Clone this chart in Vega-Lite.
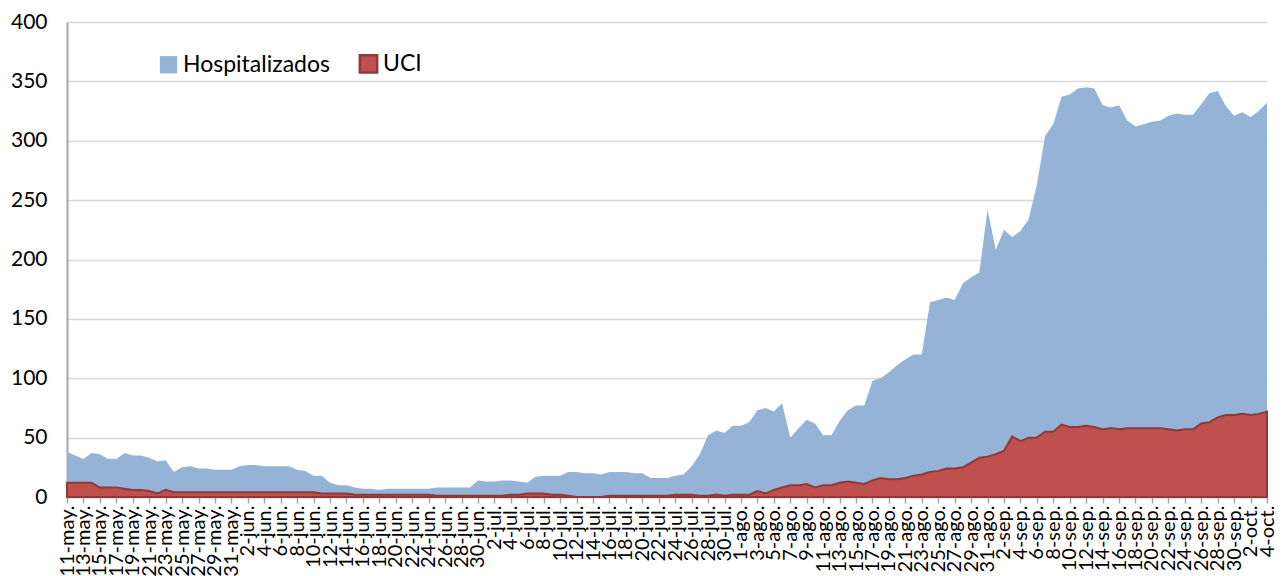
{
  "$schema": "https://vega.github.io/schema/vega-lite/v6.json",
  "width": 1200,
  "height": 475,
  "autosize": {"type": "none"},
  "padding": {"left": 67, "top": 22, "right": 21, "bottom": 79},
  "background": "white",
  "config": {
    "font": "Lato",
    "view": {"stroke": null},
    "axis": {"labelFont": "Lato", "labelColor": "#000000"},
    "legend": {"labelFont": "Lato"}
  },
  "data": {
    "values": [
      {"fecha": "2020-05-11", "Hospitalizados": 38, "UCI": 12},
      {"fecha": "2020-05-12", "Hospitalizados": 35, "UCI": 12},
      {"fecha": "2020-05-13", "Hospitalizados": 32, "UCI": 12},
      {"fecha": "2020-05-14", "Hospitalizados": 37, "UCI": 12},
      {"fecha": "2020-05-15", "Hospitalizados": 36, "UCI": 8},
      {"fecha": "2020-05-16", "Hospitalizados": 32, "UCI": 8},
      {"fecha": "2020-05-17", "Hospitalizados": 32, "UCI": 8},
      {"fecha": "2020-05-18", "Hospitalizados": 37, "UCI": 7},
      {"fecha": "2020-05-19", "Hospitalizados": 35, "UCI": 6},
      {"fecha": "2020-05-20", "Hospitalizados": 35, "UCI": 6},
      {"fecha": "2020-05-21", "Hospitalizados": 33, "UCI": 5},
      {"fecha": "2020-05-22", "Hospitalizados": 30, "UCI": 3},
      {"fecha": "2020-05-23", "Hospitalizados": 31, "UCI": 6},
      {"fecha": "2020-05-24", "Hospitalizados": 21, "UCI": 4},
      {"fecha": "2020-05-25", "Hospitalizados": 25, "UCI": 4},
      {"fecha": "2020-05-26", "Hospitalizados": 26, "UCI": 4},
      {"fecha": "2020-05-27", "Hospitalizados": 24, "UCI": 4},
      {"fecha": "2020-05-28", "Hospitalizados": 24, "UCI": 4},
      {"fecha": "2020-05-29", "Hospitalizados": 23, "UCI": 4},
      {"fecha": "2020-05-30", "Hospitalizados": 23, "UCI": 4},
      {"fecha": "2020-05-31", "Hospitalizados": 23, "UCI": 4},
      {"fecha": "2020-06-01", "Hospitalizados": 26, "UCI": 4},
      {"fecha": "2020-06-02", "Hospitalizados": 27, "UCI": 4},
      {"fecha": "2020-06-03", "Hospitalizados": 27, "UCI": 4},
      {"fecha": "2020-06-04", "Hospitalizados": 26, "UCI": 4},
      {"fecha": "2020-06-05", "Hospitalizados": 26, "UCI": 4},
      {"fecha": "2020-06-06", "Hospitalizados": 26, "UCI": 4},
      {"fecha": "2020-06-07", "Hospitalizados": 26, "UCI": 4},
      {"fecha": "2020-06-08", "Hospitalizados": 23, "UCI": 4},
      {"fecha": "2020-06-09", "Hospitalizados": 22, "UCI": 4},
      {"fecha": "2020-06-10", "Hospitalizados": 18, "UCI": 4},
      {"fecha": "2020-06-11", "Hospitalizados": 18, "UCI": 3},
      {"fecha": "2020-06-12", "Hospitalizados": 12, "UCI": 3},
      {"fecha": "2020-06-13", "Hospitalizados": 10, "UCI": 3},
      {"fecha": "2020-06-14", "Hospitalizados": 10, "UCI": 3},
      {"fecha": "2020-06-15", "Hospitalizados": 8, "UCI": 2},
      {"fecha": "2020-06-16", "Hospitalizados": 7, "UCI": 2},
      {"fecha": "2020-06-17", "Hospitalizados": 7, "UCI": 2},
      {"fecha": "2020-06-18", "Hospitalizados": 6, "UCI": 2},
      {"fecha": "2020-06-19", "Hospitalizados": 7, "UCI": 2},
      {"fecha": "2020-06-20", "Hospitalizados": 7, "UCI": 2},
      {"fecha": "2020-06-21", "Hospitalizados": 7, "UCI": 2},
      {"fecha": "2020-06-22", "Hospitalizados": 7, "UCI": 2},
      {"fecha": "2020-06-23", "Hospitalizados": 7, "UCI": 2},
      {"fecha": "2020-06-24", "Hospitalizados": 7, "UCI": 2},
      {"fecha": "2020-06-25", "Hospitalizados": 8, "UCI": 1},
      {"fecha": "2020-06-26", "Hospitalizados": 8, "UCI": 1},
      {"fecha": "2020-06-27", "Hospitalizados": 8, "UCI": 1},
      {"fecha": "2020-06-28", "Hospitalizados": 8, "UCI": 1},
      {"fecha": "2020-06-29", "Hospitalizados": 8, "UCI": 1},
      {"fecha": "2020-06-30", "Hospitalizados": 14, "UCI": 1},
      {"fecha": "2020-07-01", "Hospitalizados": 13, "UCI": 1},
      {"fecha": "2020-07-02", "Hospitalizados": 13, "UCI": 1},
      {"fecha": "2020-07-03", "Hospitalizados": 14, "UCI": 1},
      {"fecha": "2020-07-04", "Hospitalizados": 14, "UCI": 2},
      {"fecha": "2020-07-05", "Hospitalizados": 13, "UCI": 2},
      {"fecha": "2020-07-06", "Hospitalizados": 12, "UCI": 3},
      {"fecha": "2020-07-07", "Hospitalizados": 17, "UCI": 3},
      {"fecha": "2020-07-08", "Hospitalizados": 18, "UCI": 3},
      {"fecha": "2020-07-09", "Hospitalizados": 18, "UCI": 2},
      {"fecha": "2020-07-10", "Hospitalizados": 18, "UCI": 2},
      {"fecha": "2020-07-11", "Hospitalizados": 21, "UCI": 1},
      {"fecha": "2020-07-12", "Hospitalizados": 21, "UCI": 0},
      {"fecha": "2020-07-13", "Hospitalizados": 20, "UCI": 0},
      {"fecha": "2020-07-14", "Hospitalizados": 20, "UCI": 0},
      {"fecha": "2020-07-15", "Hospitalizados": 19, "UCI": 0},
      {"fecha": "2020-07-16", "Hospitalizados": 21, "UCI": 1},
      {"fecha": "2020-07-17", "Hospitalizados": 21, "UCI": 1},
      {"fecha": "2020-07-18", "Hospitalizados": 21, "UCI": 1},
      {"fecha": "2020-07-19", "Hospitalizados": 20, "UCI": 1},
      {"fecha": "2020-07-20", "Hospitalizados": 20, "UCI": 1},
      {"fecha": "2020-07-21", "Hospitalizados": 16, "UCI": 1},
      {"fecha": "2020-07-22", "Hospitalizados": 16, "UCI": 1},
      {"fecha": "2020-07-23", "Hospitalizados": 16, "UCI": 1},
      {"fecha": "2020-07-24", "Hospitalizados": 18, "UCI": 2},
      {"fecha": "2020-07-25", "Hospitalizados": 19, "UCI": 2},
      {"fecha": "2020-07-26", "Hospitalizados": 26, "UCI": 2},
      {"fecha": "2020-07-27", "Hospitalizados": 36, "UCI": 1},
      {"fecha": "2020-07-28", "Hospitalizados": 52, "UCI": 1},
      {"fecha": "2020-07-29", "Hospitalizados": 56, "UCI": 2},
      {"fecha": "2020-07-30", "Hospitalizados": 54, "UCI": 1},
      {"fecha": "2020-07-31", "Hospitalizados": 60, "UCI": 2},
      {"fecha": "2020-08-01", "Hospitalizados": 60, "UCI": 2},
      {"fecha": "2020-08-02", "Hospitalizados": 63, "UCI": 2},
      {"fecha": "2020-08-03", "Hospitalizados": 73, "UCI": 5},
      {"fecha": "2020-08-04", "Hospitalizados": 75, "UCI": 3},
      {"fecha": "2020-08-05", "Hospitalizados": 72, "UCI": 6},
      {"fecha": "2020-08-06", "Hospitalizados": 79, "UCI": 8},
      {"fecha": "2020-08-07", "Hospitalizados": 50, "UCI": 10},
      {"fecha": "2020-08-08", "Hospitalizados": 58, "UCI": 10},
      {"fecha": "2020-08-09", "Hospitalizados": 65, "UCI": 11},
      {"fecha": "2020-08-10", "Hospitalizados": 62, "UCI": 8},
      {"fecha": "2020-08-11", "Hospitalizados": 52, "UCI": 10},
      {"fecha": "2020-08-12", "Hospitalizados": 52, "UCI": 10},
      {"fecha": "2020-08-13", "Hospitalizados": 64, "UCI": 12},
      {"fecha": "2020-08-14", "Hospitalizados": 73, "UCI": 13},
      {"fecha": "2020-08-15", "Hospitalizados": 77, "UCI": 12},
      {"fecha": "2020-08-16", "Hospitalizados": 77, "UCI": 11},
      {"fecha": "2020-08-17", "Hospitalizados": 98, "UCI": 14},
      {"fecha": "2020-08-18", "Hospitalizados": 100, "UCI": 16},
      {"fecha": "2020-08-19", "Hospitalizados": 105, "UCI": 15},
      {"fecha": "2020-08-20", "Hospitalizados": 111, "UCI": 15},
      {"fecha": "2020-08-21", "Hospitalizados": 116, "UCI": 16},
      {"fecha": "2020-08-22", "Hospitalizados": 120, "UCI": 18},
      {"fecha": "2020-08-23", "Hospitalizados": 120, "UCI": 19},
      {"fecha": "2020-08-24", "Hospitalizados": 164, "UCI": 21},
      {"fecha": "2020-08-25", "Hospitalizados": 166, "UCI": 22},
      {"fecha": "2020-08-26", "Hospitalizados": 168, "UCI": 24},
      {"fecha": "2020-08-27", "Hospitalizados": 166, "UCI": 24},
      {"fecha": "2020-08-28", "Hospitalizados": 180, "UCI": 25},
      {"fecha": "2020-08-29", "Hospitalizados": 185, "UCI": 29},
      {"fecha": "2020-08-30", "Hospitalizados": 189, "UCI": 33},
      {"fecha": "2020-08-31", "Hospitalizados": 242, "UCI": 34},
      {"fecha": "2020-09-01", "Hospitalizados": 208, "UCI": 36},
      {"fecha": "2020-09-02", "Hospitalizados": 225, "UCI": 39},
      {"fecha": "2020-09-03", "Hospitalizados": 219, "UCI": 51},
      {"fecha": "2020-09-04", "Hospitalizados": 224, "UCI": 47},
      {"fecha": "2020-09-05", "Hospitalizados": 234, "UCI": 50},
      {"fecha": "2020-09-06", "Hospitalizados": 263, "UCI": 50},
      {"fecha": "2020-09-07", "Hospitalizados": 304, "UCI": 55},
      {"fecha": "2020-09-08", "Hospitalizados": 314, "UCI": 55},
      {"fecha": "2020-09-09", "Hospitalizados": 337, "UCI": 61},
      {"fecha": "2020-09-10", "Hospitalizados": 339, "UCI": 59},
      {"fecha": "2020-09-11", "Hospitalizados": 344, "UCI": 59},
      {"fecha": "2020-09-12", "Hospitalizados": 345, "UCI": 60},
      {"fecha": "2020-09-13", "Hospitalizados": 344, "UCI": 59},
      {"fecha": "2020-09-14", "Hospitalizados": 330, "UCI": 57},
      {"fecha": "2020-09-15", "Hospitalizados": 328, "UCI": 58},
      {"fecha": "2020-09-16", "Hospitalizados": 330, "UCI": 57},
      {"fecha": "2020-09-17", "Hospitalizados": 317, "UCI": 58},
      {"fecha": "2020-09-18", "Hospitalizados": 312, "UCI": 58},
      {"fecha": "2020-09-19", "Hospitalizados": 314, "UCI": 58},
      {"fecha": "2020-09-20", "Hospitalizados": 316, "UCI": 58},
      {"fecha": "2020-09-21", "Hospitalizados": 317, "UCI": 58},
      {"fecha": "2020-09-22", "Hospitalizados": 321, "UCI": 57},
      {"fecha": "2020-09-23", "Hospitalizados": 323, "UCI": 56},
      {"fecha": "2020-09-24", "Hospitalizados": 322, "UCI": 57},
      {"fecha": "2020-09-25", "Hospitalizados": 322, "UCI": 57},
      {"fecha": "2020-09-26", "Hospitalizados": 331, "UCI": 62},
      {"fecha": "2020-09-27", "Hospitalizados": 340, "UCI": 63},
      {"fecha": "2020-09-28", "Hospitalizados": 342, "UCI": 67},
      {"fecha": "2020-09-29", "Hospitalizados": 329, "UCI": 69},
      {"fecha": "2020-09-30", "Hospitalizados": 321, "UCI": 69},
      {"fecha": "2020-10-01", "Hospitalizados": 324, "UCI": 70},
      {"fecha": "2020-10-02", "Hospitalizados": 320, "UCI": 69},
      {"fecha": "2020-10-03", "Hospitalizados": 325, "UCI": 70},
      {"fecha": "2020-10-04", "Hospitalizados": 332, "UCI": 72}
    ]
  },
  "encoding": {
    "x": {
      "field": "fecha",
      "type": "temporal",
      "scale": {"type": "utc", "nice": false},
      "axis": {
        "title": null,
        "labelExpr": "utcdate(datum.value) + '-' + ['ene.','feb.','mar.','abr.','may.','jun.','jul.','ago.','sep.','oct.','nov.','dic.'][utcmonth(datum.value)]",
        "labelAngle": -90,
        "labelAlign": "right",
        "labelBaseline": "middle",
        "labelFontSize": 20,
        "labelPadding": 2,
        "labelOverlap": false,
        "labelBound": false,
        "labelFlush": false,
        "tickSize": 6,
        "tickColor": "#A6A6A6",
        "tickWidth": 1.5,
        "domainColor": "#A6A6A6",
        "domainWidth": 1.5,
        "grid": false,
        "values": [1589155200000, 1589328000000, 1589500800000, 1589673600000, 1589846400000, 1590019200000, 1590192000000, 1590364800000, 1590537600000, 1590710400000, 1590883200000, 1591056000000, 1591228800000, 1591401600000, 1591574400000, 1591747200000, 1591920000000, 1592092800000, 1592265600000, 1592438400000, 1592611200000, 1592784000000, 1592956800000, 1593129600000, 1593302400000, 1593475200000, 1593648000000, 1593820800000, 1593993600000, 1594166400000, 1594339200000, 1594512000000, 1594684800000, 1594857600000, 1595030400000, 1595203200000, 1595376000000, 1595548800000, 1595721600000, 1595894400000, 1596067200000, 1596240000000, 1596412800000, 1596585600000, 1596758400000, 1596931200000, 1597104000000, 1597276800000, 1597449600000, 1597622400000, 1597795200000, 1597968000000, 1598140800000, 1598313600000, 1598486400000, 1598659200000, 1598832000000, 1599004800000, 1599177600000, 1599350400000, 1599523200000, 1599696000000, 1599868800000, 1600041600000, 1600214400000, 1600387200000, 1600560000000, 1600732800000, 1600905600000, 1601078400000, 1601251200000, 1601424000000, 1601596800000, 1601769600000]
      }
    }
  },
  "layer": [
    {
      "mark": {"type": "area", "opacity": 1},
      "encoding": {
        "y": {
          "field": "Hospitalizados",
          "type": "quantitative",
          "stack": null,
          "scale": {"domain": [0, 400], "nice": false},
          "axis": {
            "title": null,
            "values": [0, 50, 100, 150, 200, 250, 300, 350, 400],
            "labelFontSize": 21,
            "labelPadding": 20,
            "ticks": false,
            "domainColor": "#A6A6A6",
            "domainWidth": 2,
            "gridColor": "#D9D9D9",
            "gridWidth": 1.5
          }
        },
        "color": {
          "datum": "Hospitalizados",
          "scale": {"domain": ["Hospitalizados", "UCI"], "range": ["#95B3D7", "#C0504D"]},
          "legend": {
            "title": null,
            "orient": "none",
            "legendX": 90,
            "legendY": 30,
            "direction": "horizontal",
            "symbolType": "square",
            "symbolSize": 300,
            "symbolOpacity": 1,
            "labelFontSize": 23,
            "labelOffset": 3,
            "columnPadding": 24,
            "encode": {
              "symbols": {
                "update": {
                  "stroke": {"value": "#8E3A38"},
                  "strokeWidth": {"signal": "datum.value === 'UCI' ? 2.5 : 0"}
                }
              }
            }
          }
        }
      }
    },
    {
      "mark": {"type": "area", "opacity": 1, "stroke": "#8E3A38", "strokeWidth": 2},
      "encoding": {
        "y": {"field": "UCI", "type": "quantitative", "stack": null},
        "color": {"datum": "UCI"}
      }
    }
  ]
}
